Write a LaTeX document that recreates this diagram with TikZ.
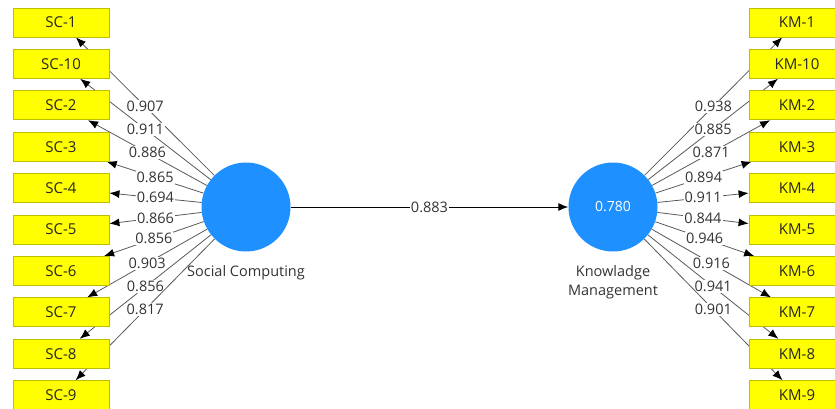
\documentclass[tikz,border=0pt]{standalone}
\usepackage{fontspec}
\setmainfont{Open Sans}
\usepackage{xcolor}
\usepackage{tikz}
\usetikzlibrary{arrows.meta,positioning,backgrounds}

\definecolor{indfill}{RGB}{255,255,0}
\definecolor{indline}{RGB}{190,190,0}
\definecolor{lvfill}{RGB}{30,144,255}

\begin{document}
\begin{tikzpicture}[
  x=1pt, y=-1pt,
  ind/.style  ={draw=indline, fill=indfill, line width=0.8pt, font=\fontsize{15}{18}\selectfont,
                text=black!85, minimum width=96pt, minimum height=29pt, inner sep=0pt},
  lv/.style   ={circle, fill=lvfill, minimum size=89pt, inner sep=0pt,
                text=white, font=\fontsize{14}{17}\selectfont},
  load/.style ={fill=white, inner sep=1pt, text=black!80, font=\fontsize{14.5}{17}\selectfont},
  lvname/.style ={text=black!80, align=center, font=\fontsize{14.5}{19}\selectfont},
  arr/.style  ={-{Latex[length=10pt,width=8pt,color=black]}, draw=black!65, line width=0.8pt},
  inner/.style ={-{Latex[length=10pt,width=8pt]}, draw=black, line width=1pt}
]
\useasboundingbox (0,0) rectangle (835,408);

% latent variables
\node[lv] (soc) at (246,207) {};
\node[lv] (kmv) at (613,207) {0.780};
\node[lvname, below=10pt of soc] (socname) {Social Computing};
\node[lvname, below=10pt of kmv] (kmname) {Knowladge\\Management};

% indicators: social computing
\node[ind] (sc1)  at (61,22.5)  {SC-1};
\node[ind] (sc10) at (61,63.9)  {SC-10};
\node[ind] (sc2)  at (61,105.3) {SC-2};
\node[ind] (sc3)  at (61,146.7) {SC-3};
\node[ind] (sc4)  at (61,188.1) {SC-4};
\node[ind] (sc5)  at (61,229.5) {SC-5};
\node[ind] (sc6)  at (61,270.9) {SC-6};
\node[ind] (sc7)  at (61,312.3) {SC-7};
\node[ind] (sc8)  at (61,353.7) {SC-8};
\node[ind] (sc9)  at (61,395.1) {SC-9};

% indicators: knowledge management
\node[ind] (km1)  at (797,22.5)  {KM-1};
\node[ind] (km10) at (797,63.9)  {KM-10};
\node[ind] (km2)  at (797,105.3) {KM-2};
\node[ind] (km3)  at (797,146.7) {KM-3};
\node[ind] (km4)  at (797,188.1) {KM-4};
\node[ind] (km5)  at (797,229.5) {KM-5};
\node[ind] (km6)  at (797,270.9) {KM-6};
\node[ind] (km7)  at (797,312.3) {KM-7};
\node[ind] (km8)  at (797,353.7) {KM-8};
\node[ind] (km9)  at (797,395.1) {KM-9};

\begin{scope}[on background layer]
\draw[arr] (soc) -- node[load]{0.907} (sc1);
\draw[arr] (soc) -- node[load]{0.911} (sc10);
\draw[arr] (soc) -- node[load]{0.886} (sc2);
\draw[arr] (soc) -- node[load]{0.865} (sc3);
\draw[arr] (soc) -- node[load]{0.694} (sc4);
\draw[arr] (soc) -- node[load]{0.866} (sc5);
\draw[arr] (soc) -- node[load]{0.856} (sc6);
\draw[arr] (soc) -- node[load]{0.903} (sc7);
\draw[arr] (soc) -- node[load]{0.856} (sc8);
\draw[arr] (soc) -- node[load]{0.817} (sc9);

\draw[arr] (kmv) -- node[load]{0.938} (km1);
\draw[arr] (kmv) -- node[load]{0.885} (km10);
\draw[arr] (kmv) -- node[load]{0.871} (km2);
\draw[arr] (kmv) -- node[load]{0.894} (km3);
\draw[arr] (kmv) -- node[load]{0.911} (km4);
\draw[arr] (kmv) -- node[load]{0.844} (km5);
\draw[arr] (kmv) -- node[load]{0.946} (km6);
\draw[arr] (kmv) -- node[load]{0.916} (km7);
\draw[arr] (kmv) -- node[load]{0.941} (km8);
\draw[arr] (kmv) -- node[load]{0.901} (km9);
\end{scope}

% structural path
\draw[inner] (soc) -- node[load]{0.883} (kmv);
\end{tikzpicture}
\end{document}
